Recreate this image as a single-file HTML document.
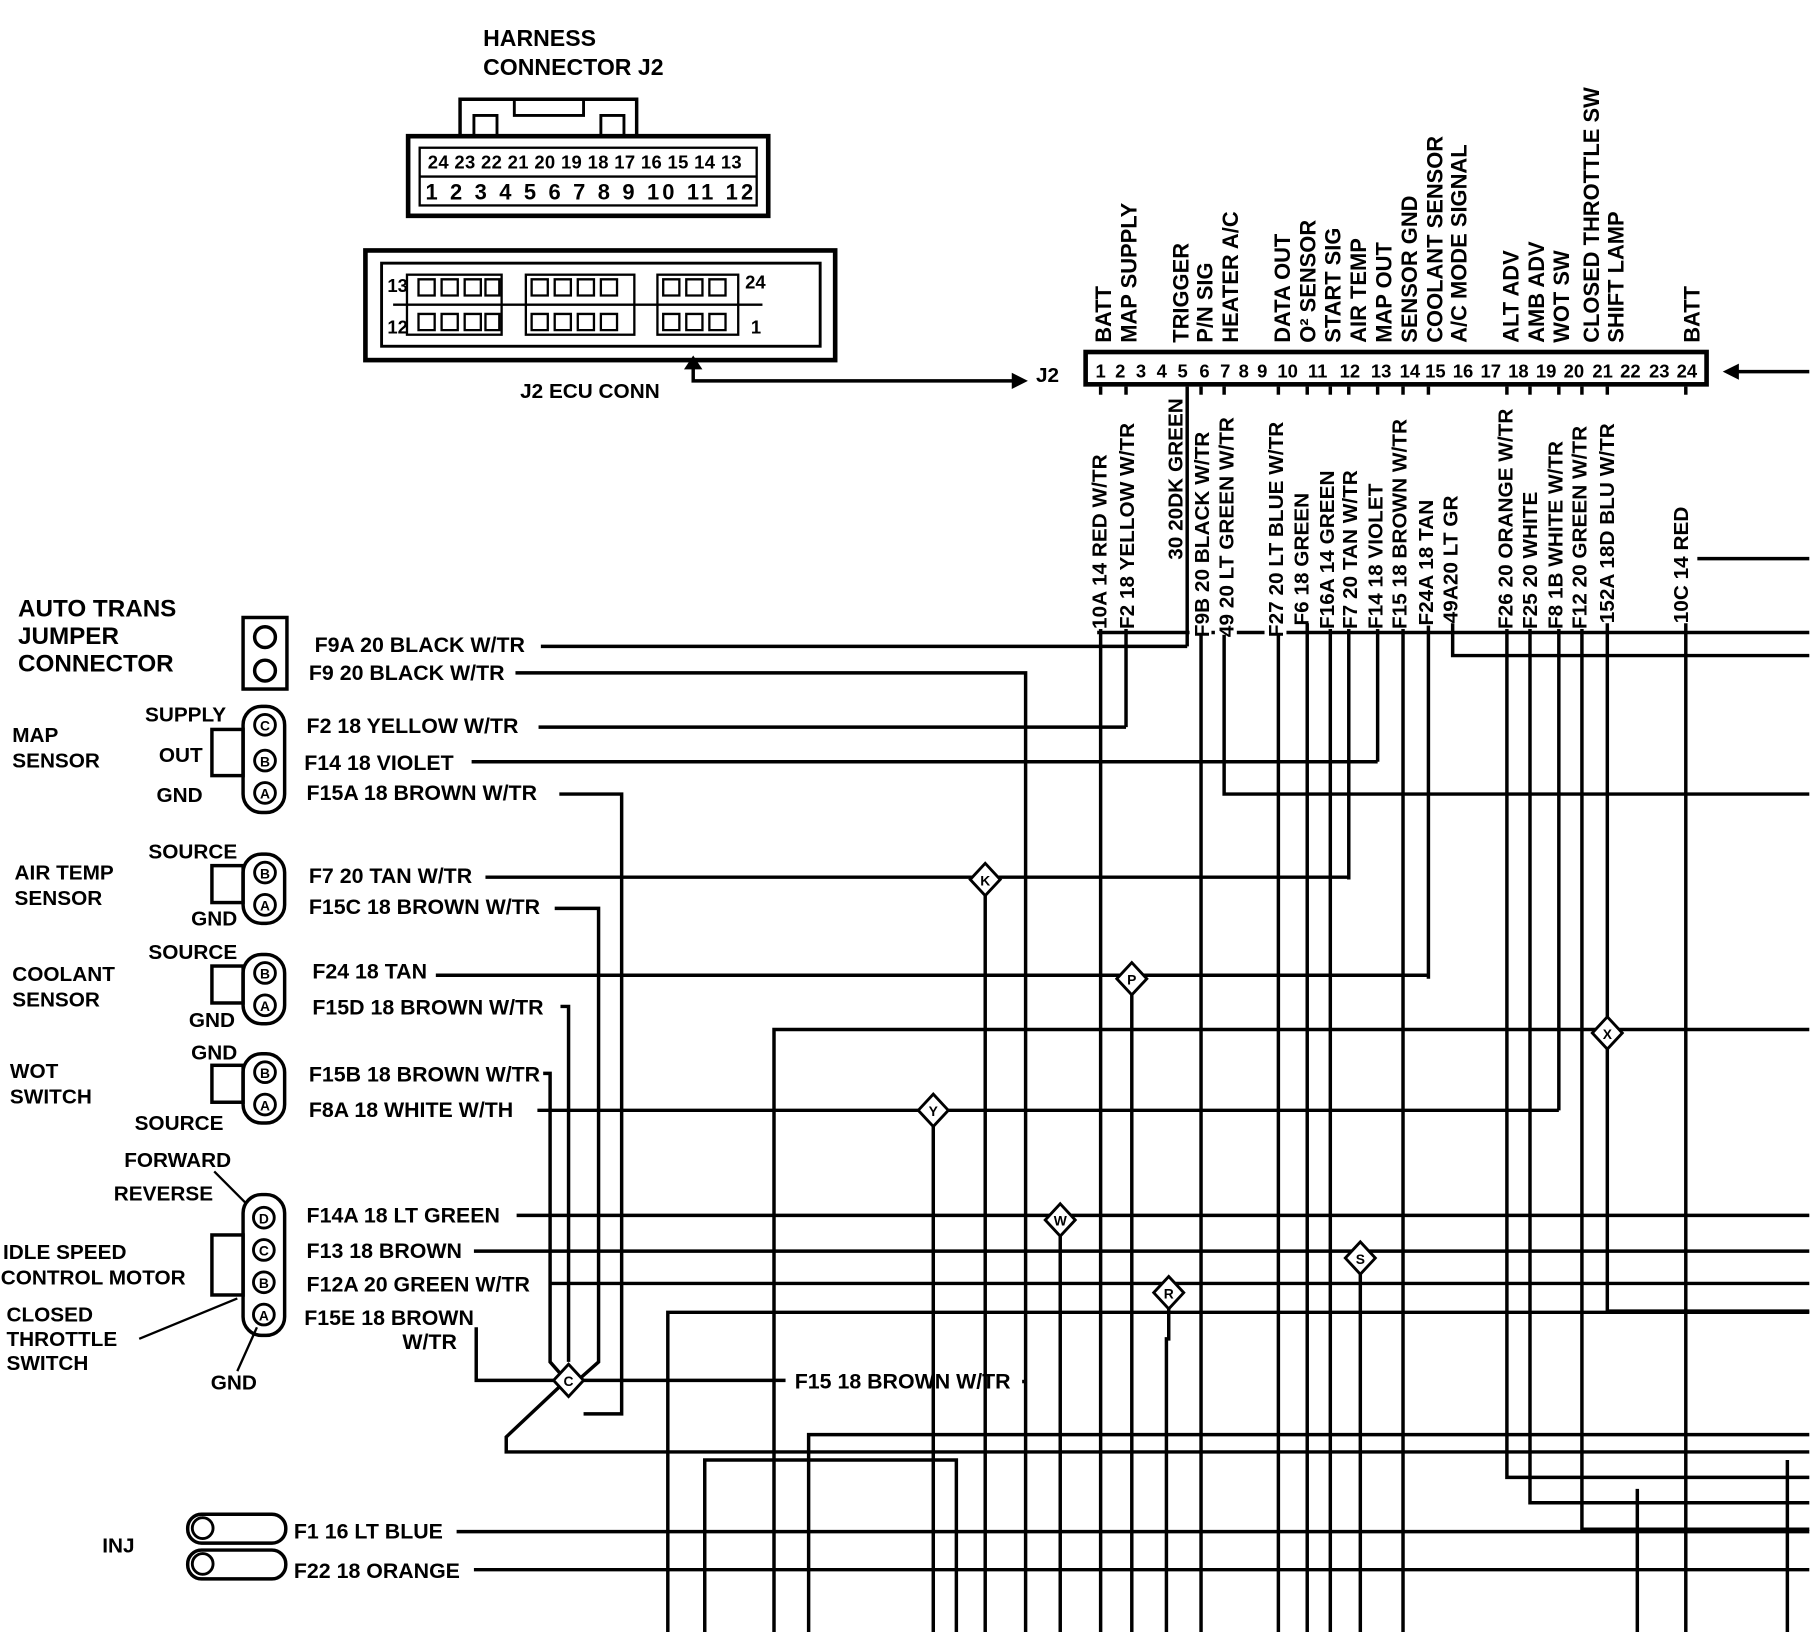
<!DOCTYPE html>
<html><head><meta charset="utf-8"><style>
html,body{margin:0;padding:0;background:#fff;}
svg{display:block;}
text{font-family:"Liberation Sans",sans-serif;font-weight:bold;fill:#000;}
</style></head><body>
<svg width="1810" height="1632" viewBox="0 0 1567 1414" xmlns="http://www.w3.org/2000/svg">
<rect width="1567" height="1414" fill="#fff"/>
<g font-size="20">
<text x="418" y="40">HARNESS</text>
<text x="418" y="65">CONNECTOR J2</text>
</g>
<g fill="none" stroke="#000">
<path d="M398 118 V86 H551 V118" stroke-width="3"/>
<path d="M410 118 V100 H430 V118 M520 118 V100 H540 V118 M445 86 V100 H505 V86" stroke-width="2.5"/>
<rect x="353" y="118" width="312" height="69" stroke-width="4"/>
<rect x="363" y="128" width="292" height="50" stroke-width="2"/>
<line x1="363" y1="153" x2="655" y2="153" stroke-width="2"/>
<rect x="316" y="217" width="407" height="95" stroke-width="4"/>
<rect x="330" y="228" width="380" height="72" stroke-width="2.5"/>
<line x1="340" y1="264" x2="660" y2="264" stroke-width="2"/>
<rect x="352" y="238" width="82" height="52" stroke-width="2"/>
<rect x="455" y="238" width="94" height="52" stroke-width="2"/>
<rect x="569" y="238" width="70" height="52" stroke-width="2"/>
</g>
<g font-size="16">
<text x="370" y="146" textLength="272">24 23 22 21 20 19 18 17 16 15 14 13</text>
<text x="368" y="173" font-size="19" textLength="284">1 2 3 4 5 6 7 8 9 10 11 12</text>
<text x="335" y="253">13</text><text x="645" y="250">24</text>
<text x="335" y="289">12</text><text x="650" y="289">1</text>
</g>
<g fill="none" stroke="#000" stroke-width="2">
<path d="M362 242h14v14h-14zM382 242h14v14h-14zM402 242h14v14h-14zM420 242h12v14h-12zM460 242h14v14h-14zM480 242h14v14h-14zM500 242h14v14h-14zM520 242h14v14h-14zM574 242h14v14h-14zM594 242h14v14h-14zM614 242h14v14h-14z"/>
<path d="M362 272h14v14h-14zM382 272h14v14h-14zM402 272h14v14h-14zM420 272h12v14h-12zM460 272h14v14h-14zM480 272h14v14h-14zM500 272h14v14h-14zM520 272h14v14h-14zM574 272h14v14h-14zM594 272h14v14h-14zM614 272h14v14h-14z"/>
</g>
<text x="450" y="345" font-size="18">J2 ECU CONN</text>
<path d="M600 318 V330 H878" stroke="#000" stroke-width="3" fill="none"/>
<path d="M600 308 l-8 12 h16z M890 330 l-14 -7 v14z" fill="#000"/>
<text x="897" y="331" font-size="18">J2</text>
<rect x="940" y="305" width="538" height="28" fill="none" stroke="#000" stroke-width="4"/>
<g font-size="16" text-anchor="middle">
<text x="953" y="327">1</text><text x="970" y="327">2</text><text x="988" y="327">3</text><text x="1006" y="327">4</text><text x="1024" y="327">5</text><text x="1043" y="327">6</text><text x="1061" y="327">7</text><text x="1077" y="327">8</text><text x="1093" y="327">9</text><text x="1115" y="327">10</text><text x="1141" y="327">11</text><text x="1169" y="327">12</text><text x="1196" y="327">13</text><text x="1221" y="327">14</text><text x="1243" y="327">15</text><text x="1267" y="327">16</text><text x="1291" y="327">17</text><text x="1315" y="327">18</text><text x="1339" y="327">19</text><text x="1363" y="327">20</text><text x="1388" y="327">21</text><text x="1412" y="327">22</text><text x="1437" y="327">23</text><text x="1461" y="327">24</text>
</g>
<line x1="1567" y1="322" x2="1505" y2="322" stroke="#000" stroke-width="3"/>
<path d="M1492 322 l14 -7 v14z" fill="#000"/>
<g font-size="19">
<text transform="translate(962,297) rotate(-90)">BATT</text>
<text transform="translate(984,297) rotate(-90)">MAP SUPPLY</text>
<text transform="translate(1029,297) rotate(-90)">TRIGGER</text>
<text transform="translate(1050,297) rotate(-90)">P/N SIG</text>
<text transform="translate(1072,297) rotate(-90)">HEATER A/C</text>
<text transform="translate(1117,297) rotate(-90)">DATA OUT</text>
<text transform="translate(1139,297) rotate(-90)">O² SENSOR</text>
<text transform="translate(1161,297) rotate(-90)">START SIG</text>
<text transform="translate(1183,297) rotate(-90)">AIR TEMP</text>
<text transform="translate(1205,297) rotate(-90)">MAP OUT</text>
<text transform="translate(1227,297) rotate(-90)">SENSOR GND</text>
<text transform="translate(1249,297) rotate(-90)">COOLANT SENSOR</text>
<text transform="translate(1270,297) rotate(-90)">A/C MODE SIGNAL</text>
<text transform="translate(1315,297) rotate(-90)">ALT ADV</text>
<text transform="translate(1337,297) rotate(-90)">AMB ADV</text>
<text transform="translate(1359,297) rotate(-90)">WOT SW</text>
<text transform="translate(1385,297) rotate(-90)">CLOSED THROTTLE SW</text>
<text transform="translate(1406,297) rotate(-90)">SHIFT LAMP</text>
<text transform="translate(1472,297) rotate(-90)">BATT</text>
</g>
<g stroke="#000" stroke-width="3" fill="none">
<path d="M953 335 V1414"/><path d="M975 335 V630"/><path d="M1028 335 V560"/><path d="M1040 335 V1414"/>
<path d="M1060 335 V688 H1567"/><path d="M1107 335 V1414"/><path d="M1132 335 V1414"/><path d="M1152 335 V1414"/>
<path d="M1168 335 V762"/><path d="M1193 335 V660"/><path d="M1215 335 V1414"/><path d="M1237 335 V848"/>
<path d="M1258 540 V568 H1567"/><path d="M1305 335 V1280 H1567"/><path d="M1325 335 V1302 H1567"/>
<path d="M1350 335 V962"/><path d="M1370 335 V1325 H1567"/><path d="M1392 335 V1136 H1567"/><path d="M1460 335 V1414"/>
<path d="M1470 484 H1567"/><path d="M950 548 H1567"/>
<path d="M468 560 H1028"/><path d="M446 583 H888 V1414"/>
<path d="M466 630 H975"/><path d="M408 660 H1193"/>
<path d="M484 688 H538 V1225 H505"/>
<path d="M420 760 H1168"/><path d="M480 787 H518 V1180 L500 1196"/>
<path d="M377 845 H1237"/><path d="M485 872 H492 V1180"/>
<path d="M470 930 H476 V1180 L490 1196"/><path d="M465 962 H1350"/>
<path d="M670 1414 V892 H1567"/>
<path d="M853 762 V1414"/><path d="M980 848 V1414"/><path d="M808 962 V1414"/><path d="M918 1057 V1414"/><path d="M1178 1090 V1414"/>
<path d="M1012 1120 V1160 H1010 V1414"/>
<path d="M447 1053 H1567"/><path d="M410 1084 H1567"/><path d="M475 1112 H1567"/>
<path d="M578 1414 V1137 H1567"/>
<path d="M412 1150 V1196 H490 H680"/><path d="M885 1197 H888"/>
<path d="M490 1196 L438 1245 V1258 H1567"/>
<path d="M700 1414 V1243 H1567"/><path d="M610 1414 V1265 H828 V1414"/>
<path d="M395 1327 H1567"/><path d="M410 1360 H1567"/>
<path d="M1548 1265 V1414"/><path d="M1418 1290 V1414"/>
</g>
<!-- white backgrounds under wire labels -->
<g fill="#fff">
<rect x="943" y="342" width="18" height="203"/>
<rect x="966" y="342" width="18" height="203"/>
<rect x="1030" y="342" width="19" height="208"/>
<rect x="1052" y="342" width="19" height="208"/>
<rect x="1095" y="342" width="19" height="208"/>
<rect x="1118" y="342" width="17" height="198"/>
<rect x="1139" y="342" width="18" height="203"/>
<rect x="1160" y="342" width="17" height="203"/>
<rect x="1182" y="342" width="17" height="203"/>
<rect x="1203" y="342" width="17" height="203"/>
<rect x="1226" y="342" width="17" height="200"/>
<rect x="1295" y="342" width="17" height="203"/>
<rect x="1316" y="342" width="17" height="203"/>
<rect x="1338" y="342" width="17" height="203"/>
<rect x="1359" y="342" width="17" height="203"/>
<rect x="1383" y="342" width="17" height="198"/>
<rect x="1447" y="342" width="17" height="198"/>
</g>
<g font-size="18">
<text transform="translate(958,545) rotate(-90)">10A 14 RED W/TR</text>
<text transform="translate(982,545) rotate(-90)">F2 18 YELLOW W/TR</text>
<text transform="translate(1024,485) rotate(-90)">30 20DK GREEN</text>
<text transform="translate(1047,552) rotate(-90)">F9B 20 BLACK W/TR</text>
<text transform="translate(1068,552) rotate(-90)">49 20 LT GREEN W/TR</text>
<text transform="translate(1111,552) rotate(-90)">F27 20 LT BLUE W/TR</text>
<text transform="translate(1133,542) rotate(-90)">F6 18 GREEN</text>
<text transform="translate(1155,545) rotate(-90)">F16A 14 GREEN</text>
<text transform="translate(1175,545) rotate(-90)">F7 20 TAN W/TR</text>
<text transform="translate(1197,545) rotate(-90)">F14 18 VIOLET</text>
<text transform="translate(1218,545) rotate(-90)">F15 18 BROWN W/TR</text>
<text transform="translate(1241,542) rotate(-90)">F24A 18 TAN</text>
<text transform="translate(1262,540) rotate(-90)">49A20 LT GR</text>
<text transform="translate(1310,545) rotate(-90)">F26 20 ORANGE W/TR</text>
<text transform="translate(1331,545) rotate(-90)">F25 20 WHITE</text>
<text transform="translate(1353,545) rotate(-90)">F8 1B WHITE W/TR</text>
<text transform="translate(1374,545) rotate(-90)">F12 20 GREEN W/TR</text>
<text transform="translate(1398,540) rotate(-90)">152A 18D BLU W/TR</text>
<text transform="translate(1462,540) rotate(-90)">10C 14 RED</text>
</g>
<g stroke="#000" stroke-width="2.5" fill="#fff">
<path d="M853 748 l13 14 l-13 14 l-13 -14z"/><path d="M980 834 l13 14 l-13 14 l-13 -14z"/>
<path d="M1392 881 l13 14 l-13 14 l-13 -14z"/><path d="M808 948 l13 14 l-13 14 l-13 -14z"/>
<path d="M918 1043 l13 14 l-13 14 l-13 -14z"/><path d="M1178 1076 l13 14 l-13 14 l-13 -14z"/>
<path d="M1012 1106 l13 14 l-13 14 l-13 -14z"/><path d="M492 1182 l13 14 l-13 14 l-13 -14z"/>
</g>
<g font-size="12" text-anchor="middle">
<text x="853" y="767">K</text><text x="980" y="853">P</text><text x="1392" y="900">X</text><text x="808" y="967">Y</text>
<text x="918" y="1062">W</text><text x="1178" y="1095">S</text><text x="1012" y="1125">R</text><text x="492" y="1201">C</text>
</g>
<g font-size="21">
<text x="15" y="534">AUTO TRANS</text><text x="15" y="558">JUMPER</text><text x="15" y="582">CONNECTOR</text>
</g>
<g font-size="18">
<text x="10" y="643">MAP</text><text x="10" y="665">SENSOR</text>
<text x="125" y="625">SUPPLY</text><text x="137" y="660">OUT</text><text x="135" y="695">GND</text>
<text x="12" y="762">AIR TEMP</text><text x="12" y="784">SENSOR</text>
<text x="128" y="744">SOURCE</text><text x="165" y="802">GND</text>
<text x="10" y="850">COOLANT</text><text x="10" y="872">SENSOR</text>
<text x="128" y="831">SOURCE</text><text x="163" y="890">GND</text>
<text x="8" y="934">WOT</text><text x="8" y="956">SWITCH</text>
<text x="165" y="918">GND</text><text x="116" y="979">SOURCE</text>
<text x="107" y="1011">FORWARD</text><text x="98" y="1040">REVERSE</text>
<text x="2" y="1091">IDLE SPEED</text><text x="0" y="1113">CONTROL MOTOR</text>
<text x="5" y="1145">CLOSED</text><text x="5" y="1166">THROTTLE</text><text x="5" y="1187">SWITCH</text>
<text x="182" y="1204">GND</text>
<text x="88" y="1345">INJ</text>
</g>
<g font-size="18.5">
<text x="272" y="565">F9A 20 BLACK W/TR</text><text x="267" y="589">F9 20 BLACK W/TR</text>
<text x="265" y="635">F2 18 YELLOW W/TR</text><text x="263" y="667">F14 18  VIOLET</text>
<text x="265" y="693">F15A 18 BROWN W/TR</text>
<text x="267" y="765">F7 20 TAN W/TR</text><text x="267" y="792">F15C 18 BROWN W/TR</text>
<text x="270" y="848">F24 18 TAN</text><text x="270" y="879">F15D 18 BROWN W/TR</text>
<text x="267" y="937">F15B 18 BROWN W/TR</text><text x="267" y="968">F8A 18 WHITE W/TH</text>
<text x="265" y="1059">F14A 18  LT GREEN</text><text x="265" y="1090">F13 18 BROWN</text>
<text x="265" y="1119">F12A 20 GREEN W/TR</text><text x="263" y="1148">F15E 18 BROWN</text>
<text x="348" y="1169">W/TR</text>
<text x="688" y="1203">F15 18 BROWN W/TR</text>
<text x="254" y="1333">F1 16 LT BLUE</text><text x="254" y="1367">F22 18 ORANGE</text>
</g>
<g stroke="#000" stroke-width="3" fill="#fff">
<rect x="210" y="535" width="38" height="62"/>
<circle cx="229" cy="552" r="9"/><circle cx="229" cy="581" r="9"/>
<rect x="210" y="612" width="36" height="92" rx="16"/><rect x="183" y="632" width="27" height="40" fill="none"/>
<rect x="210" y="740" width="36" height="60" rx="16"/><rect x="183" y="750" width="27" height="32" fill="none"/>
<rect x="210" y="827" width="36" height="60" rx="16"/><rect x="183" y="837" width="27" height="32" fill="none"/>
<rect x="210" y="913" width="36" height="60" rx="16"/><rect x="183" y="923" width="27" height="32" fill="none"/>
<rect x="210" y="1035" width="36" height="122" rx="16"/><rect x="183" y="1070" width="27" height="52" fill="none"/>
<rect x="162" y="1312" width="85" height="25" rx="12"/><rect x="162" y="1343" width="85" height="25" rx="12"/>
</g>
<g stroke="#000" stroke-width="2.5" fill="#fff">
<circle cx="229" cy="628" r="9"/><circle cx="229" cy="659" r="9"/><circle cx="229" cy="687" r="9"/>
<circle cx="229" cy="756" r="9"/><circle cx="229" cy="784" r="9"/>
<circle cx="229" cy="843" r="9"/><circle cx="229" cy="871" r="9"/>
<circle cx="229" cy="929" r="9"/><circle cx="229" cy="957" r="9"/>
<circle cx="228" cy="1055" r="9"/><circle cx="228" cy="1083" r="9"/><circle cx="228" cy="1111" r="9"/><circle cx="228" cy="1139" r="9"/>
<circle cx="175" cy="1324" r="9"/><circle cx="175" cy="1355" r="9"/>
</g>
<g font-size="12" text-anchor="middle">
<text x="229" y="633">C</text><text x="229" y="664">B</text><text x="229" y="692">A</text>
<text x="229" y="761">B</text><text x="229" y="789">A</text><text x="229" y="848">B</text><text x="229" y="876">A</text>
<text x="229" y="934">B</text><text x="229" y="962">A</text>
<text x="228" y="1060">D</text><text x="228" y="1088">C</text><text x="228" y="1116">B</text><text x="228" y="1144">A</text>
</g>
<g stroke="#000" stroke-width="2" fill="none">
<path d="M185 1015 L212 1042 M120 1160 L205 1125 M205 1188 L222 1150"/>
</g>
</svg>
</body></html>
